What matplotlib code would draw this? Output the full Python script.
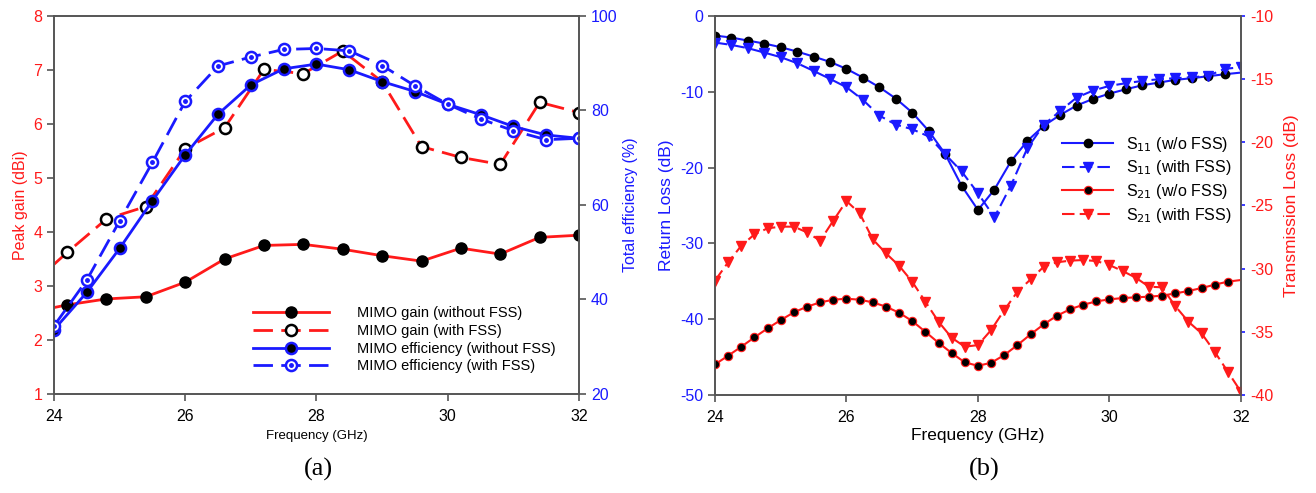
import matplotlib
matplotlib.use('Agg')
import matplotlib.pyplot as plt
import numpy as np

plt.rcParams['font.family'] = ['Liberation Sans', 'DejaVu Sans']
plt.rcParams['axes.unicode_minus'] = False

# ---- panel (a) data ----
gain_f = [24, 24.2, 24.8, 25.4, 26, 26.6, 27.2, 27.8, 28.4, 29, 29.6, 30.2, 30.8, 31.4, 32]
gain_wo = [2.6, 2.65, 2.76, 2.8, 3.07, 3.5, 3.75, 3.77, 3.68, 3.56, 3.46, 3.7, 3.59, 3.9, 3.94]
gain_w = [3.4, 3.62, 4.24, 4.47, 5.54, 5.93, 7.01, 6.93, 7.35, 6.78, 5.58, 5.38, 5.25, 6.4, 6.21]

eff_f = [24, 24.5, 25, 25.5, 26, 26.5, 27, 27.5, 28, 28.5, 29, 29.5, 30, 30.5, 31, 31.5, 32]
eff_wo = [33.6, 41.5, 50.8, 60.9, 70.6, 79.2, 85.4, 88.8, 89.8, 88.6, 86.1, 84.0, 81.3, 79.1, 76.6, 74.8, 74.1]
eff_w = [34.4, 44.1, 56.6, 69.0, 81.9, 89.4, 91.3, 92.9, 93.1, 92.6, 89.5, 85.2, 81.3, 78.2, 75.7, 73.8, 74.1]

# ---- panel (b) data ----
s11_f = [24, 24.25, 24.5, 24.75, 25, 25.25, 25.5, 25.75, 26, 26.25, 26.5, 26.75, 27, 27.25,
         27.5, 27.75, 28, 28.25, 28.5, 28.75, 29, 29.25, 29.5, 29.75, 30, 30.25, 30.5, 30.75,
         31, 31.25, 31.5, 31.75, 32]
s11_wo = [-2.6, -2.86, -3.26, -3.65, -4.13, -4.71, -5.37, -6.07, -6.99, -8.14, -9.41, -10.9,
          -12.75, -15.17, -18.2, -22.4, -25.6, -22.9, -19.2, -16.5, -14.5, -13.06, -11.83,
          -10.95, -10.25, -9.68, -9.15, -8.8, -8.44, -8.22, -7.96, -7.7, -7.48]
s11_w = [-3.52, -3.83, -4.26, -4.84, -5.45, -6.24, -7.26, -8.31, -9.41, -11.08, -13.15, -14.34,
         -14.95, -15.9, -18.25, -20.5, -23.4, -26.56, -22.4, -17.46, -14.38, -12.53, -10.78,
         -9.85, -9.23, -8.88, -8.58, -8.35, -8.22, -8.09, -7.92, -6.99, -6.77]

s21_f = [24, 24.2, 24.4, 24.6, 24.8, 25, 25.2, 25.4, 25.6, 25.8, 26, 26.2, 26.4, 26.6, 26.8,
         27, 27.2, 27.4, 27.6, 27.8, 28, 28.2, 28.4, 28.6, 28.8, 29, 29.2, 29.4, 29.6, 29.8,
         30, 30.2, 30.4, 30.6, 30.8, 31, 31.2, 31.4, 31.6, 31.8, 32]
s21_wo = [-37.58, -36.89, -36.18, -35.44, -34.73, -34.07, -33.46, -33.01, -32.67, -32.46,
          -32.38, -32.46, -32.67, -33.01, -33.49, -34.15, -35.0, -35.87, -36.68, -37.42,
          -37.69, -37.45, -36.84, -36.05, -35.2, -34.41, -33.73, -33.22, -32.86, -32.59,
          -32.43, -32.33, -32.27, -32.22, -32.14, -31.96, -31.77, -31.54, -31.27, -31.03, -30.9]
s21_w = [-30.95, -29.5, -28.19, -27.29, -26.81, -26.68, -26.68, -27.13, -27.79, -26.2,
         -24.65, -25.62, -27.68, -28.79, -29.77, -31.04, -32.62, -34.2, -35.47, -36.18,
         -36.05, -34.86, -33.28, -31.83, -30.85, -29.85, -29.5, -29.37, -29.32, -29.4,
         -29.72, -30.19, -30.72, -31.43, -31.48, -32.96, -34.2, -35.12, -36.58, -38.16, -39.75]

RED = '#ff1a1a'
BLUE = '#1a1aff'
SPINE = '#555555'

fig = plt.figure(figsize=(13.16, 4.93), dpi=100)


def style_axes(ax):
    for s in ax.spines.values():
        s.set_color(SPINE)
        s.set_linewidth(1.2)
    ax.tick_params(direction='out', length=5, width=1.2, color=SPINE)


# ---------------- panel (a) ----------------
ax1 = fig.add_axes([0.041, 0.2008, 0.399, 0.767])
ax2 = ax1.twinx()
dash = (0, (7, 3))

l1, = ax1.plot(gain_f, gain_wo, color=RED, lw=2, marker='o', ms=8, mfc='black', mec='black',
               markevery=list(range(1, len(gain_f))))
l2, = ax1.plot(gain_f, gain_w, color=RED, lw=2, ls=dash, marker='o', ms=8, mfc='white',
               mec='black', mew=1.8, markevery=list(range(1, len(gain_f))))
l3, = ax2.plot(eff_f, eff_wo, color=BLUE, lw=2, marker='o', ms=8, mfc='black', mec=BLUE, mew=1.8)
l4, = ax2.plot(eff_f, eff_w, color=BLUE, lw=2, ls=dash, marker='o', ms=8, mfc='white', mec=BLUE,
               mew=1.8)
l4d, = ax2.plot(eff_f, eff_w, ls='none', marker='o', ms=2.5, color=BLUE)

ax1.set_xlim(24, 32)
ax1.set_ylim(1, 8)
ax2.set_ylim(20, 100)
ax1.set_xticks([24, 26, 28, 30, 32])
ax2.set_yticks([20, 40, 60, 80, 100])
for ax in (ax1, ax2):
    style_axes(ax)
ax1.tick_params(axis='y', labelcolor=RED, labelsize=11.5)
ax1.tick_params(axis='x', labelsize=11.5, pad=6)
ax2.tick_params(axis='y', labelcolor=BLUE, labelsize=11.5)
ax1.set_ylabel('Peak gain (dBi)', color=RED, fontsize=11.5)
ax2.set_ylabel('Total efficiency (%)', color=BLUE, fontsize=11.5)
ax1.set_xlabel('Frequency (GHz)', fontsize=9.5, labelpad=4)

ax2.legend([l1, l2, l3, (l4, l4d)],
           ['MIMO gain (without FSS)', 'MIMO gain (with FSS)',
            'MIMO efficiency (without FSS)', 'MIMO efficiency (with FSS)'],
           loc='lower right', bbox_to_anchor=(0.98, 0.02), frameon=False, fontsize=10.5,
           handlelength=5.2, labelspacing=0.25, handletextpad=1.9)

fig.text(0.242, 0.035, '(a)', fontsize=19, family='Liberation Serif', ha='center')

# ---------------- panel (b) ----------------
bx1 = fig.add_axes([0.5433, 0.1988, 0.3997, 0.769])
bx2 = bx1.twinx()

m1, = bx1.plot(s11_f, s11_wo, color=BLUE, lw=1.5, marker='o', ms=6, mfc='black', mec='black',
               markevery=list(range(0, len(s11_f) - 1)))
m2, = bx1.plot(s11_f, s11_w, color=BLUE, lw=1.5, ls=(0, (6, 2.5)), marker='v', ms=6.5,
               mfc=BLUE, mec=BLUE)
m3, = bx2.plot(s21_f, s21_wo, color=RED, lw=1.5, marker='o', ms=6, mfc='black', mec=RED,
               mew=0.8, markevery=list(range(0, len(s21_f) - 1)))
m4, = bx2.plot(s21_f, s21_w, color=RED, lw=1.5, ls=(0, (6, 2.5)), marker='v', ms=6.5,
               mfc=RED, mec=RED)

bx1.set_xlim(24, 32)
bx1.set_ylim(-50, 0)
bx2.set_ylim(-40, -10)
bx1.set_xticks([24, 26, 28, 30, 32])
bx1.set_yticks([-50, -40, -30, -20, -10, 0])
bx2.set_yticks([-40, -35, -30, -25, -20, -15, -10])
for ax in (bx1, bx2):
    style_axes(ax)
bx1.tick_params(axis='y', labelcolor=BLUE, labelsize=11.5)
bx1.tick_params(axis='x', labelsize=11.5, pad=6)
bx2.tick_params(axis='y', labelcolor=RED, labelsize=11.5, color=BLUE, length=3)
bx1.set_ylabel('Return Loss (dB)', color=BLUE, fontsize=12.5)
bx2.set_ylabel('Transmission Loss (dB)', color=RED, fontsize=12.5, labelpad=8)
bx1.set_xlabel('Frequency (GHz)', fontsize=12.5, labelpad=2)

bx1.legend([m1, m2, m3, m4],
           ['S$_{11}$ (w/o FSS)', 'S$_{11}$ (with FSS)', 'S$_{21}$ (w/o FSS)',
            'S$_{21}$ (with FSS)'],
           loc='upper right', bbox_to_anchor=(1.01, 0.725), frameon=False, fontsize=11.5,
           handlelength=3.2, labelspacing=0.3, handletextpad=0.8)

fig.text(0.748, 0.035, '(b)', fontsize=19, family='Liberation Serif', ha='center')

fig.savefig('out.png', dpi=100)
